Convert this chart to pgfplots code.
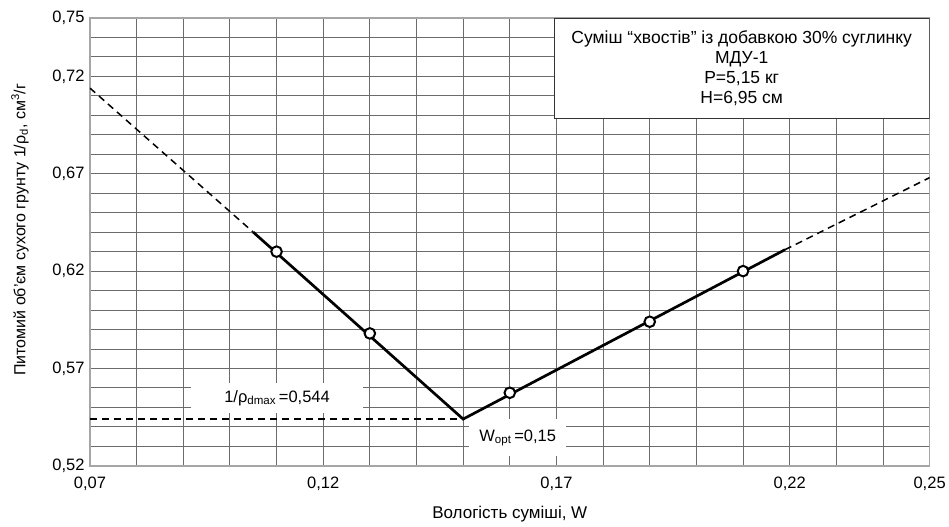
\documentclass[border=0pt]{standalone}
\usepackage{fontspec}
\setmainfont{Liberation Sans}
\usepackage{pgfplots}
\pgfplotsset{compat=1.18}

\begin{document}
\begin{tikzpicture}[font=\fontsize{16.5}{19}\selectfont]
\begin{axis}[
	width=840pt, height=448pt, scale only axis,
	xmin=0.07, xmax=0.25, ymin=0.52, ymax=0.75,
	xtick={0.07,0.12,0.17,0.22,0.25},
	ytick={0.52,0.57,0.62,0.67,0.72,0.75},
	minor xtick={0.07,0.08,...,0.255},
	minor ytick={0.52,0.53,...,0.755},
	minor grid style={black!58, line width=0.9pt},
	xminorgrids, yminorgrids,
	major tick length=0pt, minor tick length=0pt,
	axis line style={black!35, line width=1.5pt},
	/pgf/number format/.cd, use comma, fixed, precision=2, fixed zerofill, assume math mode=true,
	/pgfplots/.cd,
	xlabel={Вологість суміші, W},
	ylabel={Питомий об'єм сухого грунту 1/ρ\textsubscript{d}, см\textsuperscript{3}/г},
	xlabel style={at={([yshift=-48pt]axis description cs:0.5,0)}, anchor=center, font=\fontsize{17}{20}\selectfont},
	ylabel style={at={([xshift=-70pt]axis description cs:0,0.527)}, anchor=center, font=\fontsize{16}{19}\selectfont},
	xticklabel style={yshift=-8pt},
	yticklabel style={xshift=-2pt},
	clip=true,
]
% описові підписи
\node[draw=black!80, line width=1pt, fill=white, align=center, anchor=north east,
	minimum width=375pt, minimum height=100pt, inner sep=2pt, font=\fontsize{17.5}{20}\selectfont]
	at (rel axis cs:1,1) {Суміш “хвостів” із добавкою 30\% суглинку\\МДУ-1\\P=5,15 кг\\H=6,95 см};
\node[fill=white, minimum width=173pt, minimum height=30pt, inner sep=0pt] at (axis cs:0.1101,0.5549)
	{1/ρ\textsubscript{dmax}\,=0,544};
\node[fill=white, minimum width=97pt, minimum height=37pt, inner sep=0pt] at (axis cs:0.1617,0.5344)
	{W\textsubscript{opt}\,=0,15};

% пунктирні продовження
\addplot[black, line width=1.5pt, dash pattern=on 7pt off 5pt] coordinates {(0.07,0.714) (0.105,0.640)};
\addplot[black, line width=1.5pt, dash pattern=on 7pt off 5pt] coordinates {(0.219,0.631) (0.25,0.668)};
\addplot[black, line width=1.5pt, dash pattern=on 7pt off 5pt] coordinates {(0.07,0.544) (0.15,0.544)};

% апроксимуючі прямі
\addplot[black, line width=2.7pt] coordinates {(0.105,0.640) (0.15,0.544) (0.219,0.631)};

% дослідні точки
\addplot[only marks, mark=*, mark size=5.3pt, mark options={fill=white, draw=black, line width=2pt}]
	coordinates {(0.11,0.630) (0.13,0.588) (0.16,0.5575) (0.19,0.594) (0.21,0.620)};
\end{axis}
\path ([xshift=-90pt,yshift=-61pt]current axis.south west) rectangle ([xshift=19pt,yshift=18pt]current axis.north east);
\end{tikzpicture}
\end{document}
